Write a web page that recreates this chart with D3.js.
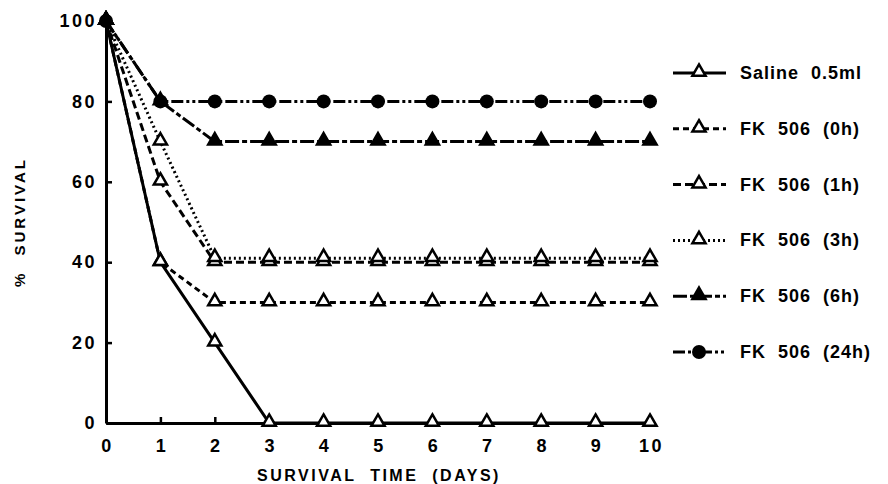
<!DOCTYPE html>
<html>
<head>
<meta charset="utf-8">
<script src="https://cdn.jsdelivr.net/npm/d3@7"></script>
<style>
  body { margin: 0; background: #fff; }
  text { font-family: "Liberation Sans", Arial, sans-serif; font-weight: bold; fill: #000; }
</style>
</head>
<body>
<div id="chart"></div>
<script>
'use strict';

// days on the x axis
const days = [0, 1, 2, 3, 4, 5, 6, 7, 8, 9, 10];
const yTicks = [0, 20, 40, 60, 80, 100];

// % survival per group
const saline = [100, 40, 20, 0, 0, 0, 0, 0, 0, 0, 0];
const fk0h = [100, 40, 30, 30, 30, 30, 30, 30, 30, 30, 30];
const fk1h = [100, 60, 40, 40, 40, 40, 40, 40, 40, 40, 40];
const fk3h = [100, 70, 41, 41, 41, 41, 41, 41, 41, 41, 41];
const fk6h = [100, 80, 70, 70, 70, 70, 70, 70, 70, 70, 70];
const fk24h = [100, 80, 80, 80, 80, 80, 80, 80, 80, 80, 80];

const labels = ['Saline  0.5ml', 'FK  506  (0h)', 'FK  506  (1h)', 'FK  506  (3h)', 'FK  506  (6h)', 'FK  506  (24h)'];

const series = [
    {name: labels[0], values: saline, dash: null, marker: 'tri', filled: false},
    {name: labels[1], values: fk0h, dash: '6,4', marker: 'tri', filled: false},
    {name: labels[2], values: fk1h, dash: '8,4', marker: 'tri', filled: false},
    {name: labels[3], values: fk3h, dash: '2,3', marker: 'tri', filled: false},
    {name: labels[4], values: fk6h, dash: '14,3,5,3', marker: 'tri', filled: true},
    {name: labels[5], values: fk24h, dash: '12,3,3,3,3,3', marker: 'circle', filled: true}
];

const width = 888;
const height = 484;
const font = '"Liberation Sans", Arial, sans-serif';

const svg = d3.select('#chart')
    .append('svg')
    .attr('width', width)
    .attr('height', height);

const x = d3.scaleLinear().domain([0, 10]).range([106, 650]);
const y = d3.scaleLinear().domain([0, 100]).range([423, 21]);

// axes (ticks point inward like the original)
const xAxis = svg.append('g')
    .attr('transform', 'translate(0,' + y(0) + ')')
    .call(d3.axisBottom(x).tickValues(days).tickSizeInner(-6).tickSizeOuter(0).tickPadding(14));
const yAxis = svg.append('g')
    .attr('transform', 'translate(' + x(0) + ',0)')
    .call(d3.axisLeft(y).tickValues(yTicks).tickSizeInner(-6).tickSizeOuter(0).tickPadding(9));

[xAxis, yAxis].forEach((ax) => {
    ax.attr('font-size', null).attr('font-family', null);
    ax.select('.domain').attr('stroke', '#000').attr('stroke-width', 3);
    ax.selectAll('.tick line').attr('stroke', '#000').attr('stroke-width', 2.5);
    ax.selectAll('.tick text')
        .style('font-size', '18px')
        .style('font-family', font)
        .style('font-weight', 'bold')
        .style('letter-spacing', '2.5px');
});
xAxis.selectAll('.tick text').attr('dy', '0.85em').attr('dx', '1px');

svg.append('text')
    .attr('x', 379)
    .attr('y', 481)
    .attr('text-anchor', 'middle')
    .style('font-size', '16px')
    .style('letter-spacing', '2.5px')
    .style('word-spacing', '7px')
    .text('SURVIVAL TIME (DAYS)');

svg.append('text')
    .attr('transform', 'translate(25,222) rotate(-90)')
    .attr('text-anchor', 'middle')
    .style('font-size', '15px')
    .style('letter-spacing', '3px')
    .style('word-spacing', '8px')
    .text('% SURVIVAL');

const line = d3.line()
    .x((d, i) => x(days[i]))
    .y((d) => y(d));

const triangle = d3.symbol().type(d3.symbolTriangle).size(75);

function drawMarker(sel, s, px, py) {
    if (s.marker === 'circle') {
        sel.append('circle')
            .attr('cx', px).attr('cy', py).attr('r', 7)
            .attr('fill', '#000');
    } else {
        sel.append('path')
            .attr('d', triangle())
            .attr('transform', 'translate(' + px + ',' + (py - 1) + ')')
            .attr('fill', s.filled ? '#000' : '#fff')
            .attr('stroke', '#000')
            .attr('stroke-width', 2.5);
    }
}

const plot = svg.append('g');

series.forEach((s) => {
    plot.append('path')
        .datum(s.values)
        .attr('d', line)
        .attr('fill', 'none')
        .attr('stroke', '#000')
        .attr('stroke-width', 3)
        .attr('stroke-dasharray', s.dash);
});

series.forEach((s) => {
    const g = plot.append('g');
    s.values.forEach((v, i) => drawMarker(g, s, x(days[i]), y(v)));
});

// legend
const legend = svg.append('g');
series.forEach((s, i) => {
    const ly = 73 + i * 55.8;
    legend.append('line')
        .attr('x1', 673).attr('x2', 726)
        .attr('y1', ly).attr('y2', ly)
        .attr('stroke', '#000')
        .attr('stroke-width', 3)
        .attr('stroke-dasharray', s.dash);
    drawMarker(legend, s, 699, ly);
    legend.append('text')
        .attr('x', 740)
        .attr('y', ly + 6)
        .style('font-size', '18px')
        .style('letter-spacing', '1px')
        .style('white-space', 'pre')
        .attr('xml:space', 'preserve')
        .text(s.name);
});
</script>
</body>
</html>
